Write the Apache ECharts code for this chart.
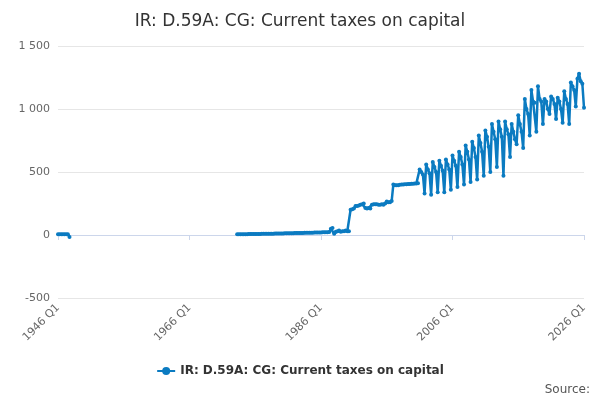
<!DOCTYPE html>
<html>
<head>
<meta charset="UTF-8">
<script src="https://cdn.jsdelivr.net/npm/echarts@6/dist/echarts.min.js"></script>
</head>
<body style="margin:0">
<div id="main" style="width:600px;height:400px;"></div>
<script>
// quarterly values, 1946 Q1 .. 2026 Q1 ('-' = no data)
var early = [5, 5, 6, 5, 6, 5, 6, -15]; // 1946 Q1 - 1947 Q4
var mid = [ // 1972 Q4 - 1986 Q4
  5, 5, 5, 5, 6, 6, 6, 7, 7, 7, 7, 8, 8, 8, 8, 9, 9, 9, 9, 10, 10, 10,
  10, 11, 11, 11, 12, 12, 12, 13, 13, 13, 14, 14, 14, 15, 15, 15, 16, 16, 16, 17,
  17, 17, 18, 18, 18, 19, 19, 19, 20, 20, 21, 21, 22, 22, 23
];
var late = [ // 1987 Q1 - 2000 Q4
  50, 55, 10, 25, 30, 35, 25, 30, 30, 35, 30, 30,
  200, 205, 210, 230, 230, 235, 240, 245, 250, 215, 210, 215,
  210, 240, 245, 245, 245, 240, 240, 245, 240, 250, 265, 260,
  260, 270, 400, 395, 395, 395, 398, 400, 400, 402, 402, 404, 405, 406, 406, 408, 408, 410
];
var recent = [ // 2001 Q1 - 2026 Q1
  520, 500, 480, 330, 560, 520, 490, 320, 580, 540, 500, 340, 590, 550, 510, 340,
  600, 560, 520, 360, 630, 590, 550, 380, 660, 620, 560, 400, 710, 660, 600, 420,
  740, 690, 620, 440, 790, 730, 660, 470, 830, 780, 700, 500, 880, 820, 760, 540,
  900, 840, 780, 470, 900, 840, 800, 620, 880, 820, 760, 720, 950, 880, 820, 690,
  1080, 1000, 960, 790, 1150, 1060, 1050, 820, 1180, 1080, 1060, 880, 1080, 1060, 1000, 960,
  1100, 1080, 1040, 920, 1090, 1060, 1000, 890, 1140, 1080, 1040, 880, 1210, 1180, 1150, 1020,
  1240, 1280, 1220, 1200, 1010
];
var seriesName = 'IR: D.59A: CG: Current taxes on capital';

var categories = [];
for (var y = 1946; y <= 2026; y++) {
  for (var q = 1; q <= 4; q++) {
    categories.push(y + ' Q' + q);
    if (y === 2026) break;
  }
}
var gap = new Array(categories.length - early.length - mid.length - late.length - recent.length).fill('-');
var values = early.concat(gap, mid, late, recent);

var chart = echarts.init(document.getElementById('main'));
chart.setOption({
  title: { text: seriesName, left: 'center', top: 8,
    textStyle: { fontSize: 17, fontWeight: 'normal', color: '#333', fontFamily: 'DejaVu Sans' } },
  grid: { left: 58, right: 16, top: 46, bottom: 102 },
  legend: { bottom: 18, data: [seriesName], itemWidth: 18, itemHeight: 10,
    textStyle: { fontSize: 12, fontWeight: 'bold', color: '#333', fontFamily: 'DejaVu Sans' } },
  graphic: [{ type: 'text', right: 10, bottom: 4,
    style: { text: 'Source:', fontSize: 12, fill: '#555', fontFamily: 'DejaVu Sans' } }],
  xAxis: {
    type: 'category', data: categories, boundaryGap: false,
    axisLine: { lineStyle: { color: '#ccd6eb' } },
    axisTick: { alignWithLabel: true, interval: 79, lineStyle: { color: '#ccd6eb' } },
    axisLabel: { interval: 79, rotate: 45, color: '#666', fontSize: 11, fontFamily: 'DejaVu Sans' }
  },
  yAxis: {
    type: 'value', min: -500, max: 1500, interval: 500,
    splitLine: { lineStyle: { color: '#e6e6e6' } },
    axisLabel: { color: '#666', fontSize: 11, fontFamily: 'DejaVu Sans',
      formatter: function (v) { return String(v).replace(/\B(?=(\d{3})+(?!\d))/g, ' '); } }
  },
  series: [{
    name: seriesName, type: 'line', data: values, connectNulls: false,
    symbol: 'circle', symbolSize: 4, showAllSymbol: true,
    itemStyle: { color: '#0b7bc1' }, lineStyle: { width: 2.5, color: '#0b7bc1' },
    animation: false
  }]
});
</script>
</body>
</html>
